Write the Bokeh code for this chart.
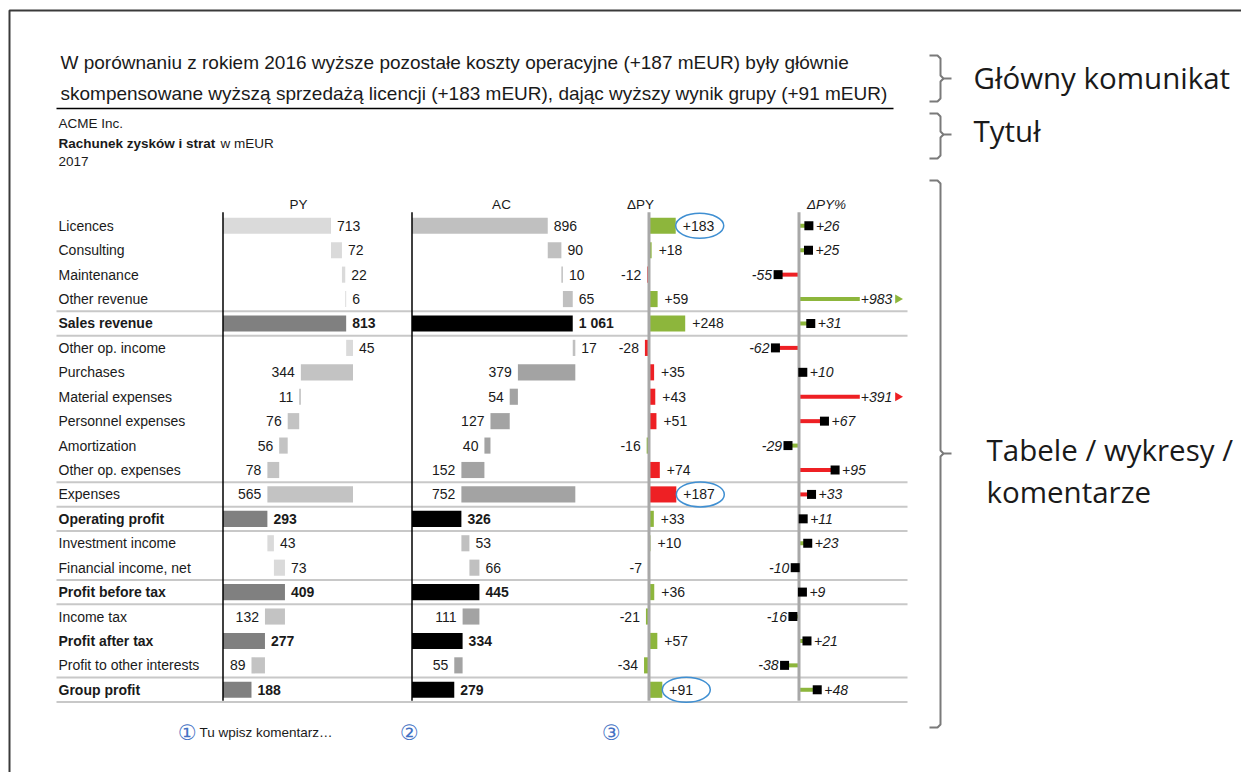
from bokeh.plotting import figure
from bokeh.models import Range1d, ColumnDataSource
from bokeh.embed import file_html
from bokeh.resources import INLINE
from bokeh.core.properties import value

# ---------------- data ----------------
categories = ["Licences", "Consulting", "Maintenance", "Other revenue", "Sales revenue",
              "Other op. income", "Purchases", "Material expenses", "Personnel expenses",
              "Amortization", "Other op. expenses", "Expenses", "Operating profit",
              "Investment income", "Financial income, net", "Profit before tax",
              "Income tax", "Profit after tax", "Profit to other interests", "Group profit"]
row_kind = ["+", "+", "+", "+", "=", "+", "-", "-", "-", "-", "-", "S", "=",
            "+", "+", "=", "-", "=", "-", "="]
py_values = [713, 72, 22, 6, 813, 45, 344, 11, 76, 56, 78, 565, 293, 43, 73, 409, 132, 277, 89, 188]
ac_values = [896, 90, 10, 65, 1061, 17, 379, 54, 127, 40, 152, 752, 326, 53, 66, 445, 111, 334, 55, 279]
delta_py = [183, 18, -12, 59, 248, -28, 35, 43, 51, -16, 74, 187, 33, 10, -7, 36, -21, 57, -34, 91]
delta_py_pct = [26, 25, -55, 983, 31, -62, 10, 391, 67, -29, 95, 33, 11, 23, -10, 9, -16, 21, -38, 48]
is_cost = [False] * 6 + [True] * 6 + [False] * 4 + [True, False, True, False]
highlighted = ["Licences", "Expenses", "Group profit"]
separators_above = ["Sales revenue", "Other op. income", "Expenses", "Operating profit",
                    "Investment income", "Profit before tax", "Income tax", "Group profit", None]
column_titles = ["PY", "AC", "\u0394PY", "\u0394PY%"]

headline = ["W porównaniu z rokiem 2016 wyższe pozostałe koszty operacyjne (+187 mEUR) były głównie",
            "skompensowane wyższą sprzedażą licencji (+183 mEUR), dając wyższy wynik grupy (+91 mEUR)"]
company = "ACME Inc."
report_bold = "Rachunek zysków i strat"
report_unit = "w mEUR"
year = "2017"
comment = "Tu wpisz komentarz\u2026"
side_notes = ["Główny komunikat", "Tytuł", "Tabele / wykresy /", "komentarze"]

# ---------------- layout / styles ----------------
SANS = "Liberation Sans"
SIDE = "Open Sans"
TXT = "#1a1a1a"
GREEN = "#8db63c"
RED = "#ee2024"
W, H = 1241, 772
X0, Y0 = 0, 0
ROW0, ROWH = 225.3, 24.42
K_ABS, K_DPY, K_PCT = 0.1515, 0.146, 0.38
PCT_CLIP = 160

p = figure(width=W, height=H, output_backend="svg", toolbar_location=None,
           x_range=Range1d(X0, X0 + W), y_range=Range1d(Y0 + H, Y0),
           x_axis_location=None, y_axis_location=None, min_border=0)
p.grid.visible = False
p.outline_line_color = None
p.background_fill_color = "white"
p.border_fill_color = "white"


def col_range(base_px, k):
    return Range1d((X0 - base_px) / k, (X0 + W - base_px) / k)


p.extra_y_ranges = {"rows": Range1d((Y0 + H - ROW0) / ROWH, (Y0 - ROW0) / ROWH)}
p.extra_x_ranges = {"py": col_range(222.5, K_ABS), "ac": col_range(411.5, K_ABS),
                    "dpy": col_range(648.5, K_DPY), "dpyp": col_range(798.5, K_PCT)}

n = len(categories)
rows = list(range(n))


def fmt(v):
    return f"{v:,}".replace(",", " ")


def waterfall(vals):
    lefts, rights = [], []
    run = 0
    for v, k in zip(vals, row_kind):
        if k == "=":
            l, r = 0, v
            run = v
        elif k == "+":
            l, r = run, run + v
            run += v
        elif k == "-":
            l, r = run - v, run
            run -= v
        else:
            l, r = run, run + v
        lefts.append(l)
        rights.append(r)
    return lefts, rights


# frame border
p.line(x=[9, 9, X0 + W], y=[Y0 + H, 10, 10], line_color="#3a3a3a", line_width=2)

# headline
p.text(x=[60, 60], y=[62, 93], text=headline, text_font=value(SANS), text_font_size="19px",
       text_color=TXT, text_baseline="middle")
p.segment(x0=56, x1=893, y0=108, y1=108, line_color="black", line_width=1.6)

# title block
p.text(x=[58], y=[123], text=[company], text_font=value(SANS), text_font_size="13.5px",
       text_color=TXT, text_baseline="middle")
p.text(x=[58], y=[143], text=[report_bold], text_font=value(SANS), text_font_size="13.5px",
       text_font_style="bold", text_color=TXT, text_baseline="middle")
p.text(x=[220], y=[143], text=[report_unit], text_font=value(SANS), text_font_size="13.5px",
       text_color=TXT, text_baseline="middle")
p.text(x=[58], y=[161], text=[year], text_font=value(SANS), text_font_size="13.5px",
       text_color=TXT, text_baseline="middle")

# column titles
p.text(x=[298, 501, 640], y=[204] * 3, text=column_titles[:3], text_font=value(SANS),
       text_font_size="13.5px", text_color=TXT, text_align="center", text_baseline="middle")
p.text(x=[826], y=[204], text=column_titles[3:], text_font=value(SANS), text_font_size="13.5px",
       text_font_style="italic", text_color=TXT, text_align="center", text_baseline="middle")

# separators
sep_y = [(categories.index(c) if c else n) - 0.5 for c in separators_above]
p.segment(x0=[56] * len(sep_y), x1=[907] * len(sep_y), y0=sep_y, y1=sep_y,
          y_range_name="rows", line_color="#c8c8c8", line_width=2)

# row labels
p.text(x=[58] * n, y=rows, text=categories, y_range_name="rows",
       text_font=value(SANS), text_font_size="14px", text_color=TXT, text_baseline="middle",
       text_font_style=["bold" if k == "=" else "normal" for k in row_kind])


def abs_column(vals, rname, c_plus, c_minus, c_total):
    l, r = waterfall(vals)
    colors = [c_total if k == "=" else (c_plus if k == "+" else c_minus) for k in row_kind]
    src = ColumnDataSource(dict(y=rows, l=l, r=r, c=colors))
    p.hbar(y="y", left="l", right="r", height=0.66, fill_color="c", line_color=None,
           source=src, x_range_name=rname, y_range_name="rows")
    lx = [r[i] if k in "+=" else l[i] for i, k in enumerate(row_kind)]
    off = [6 if k in "+=" else -6 for k in row_kind]
    al = ["left" if k in "+=" else "right" for k in row_kind]
    st = ["bold" if k == "=" else "normal" for k in row_kind]
    lsrc = ColumnDataSource(dict(x=lx, y=rows, t=[fmt(v) for v in vals], o=off, a=al, s=st))
    p.text(x="x", y="y", text="t", x_offset="o", text_align="a", text_font_style="s",
           source=lsrc, x_range_name=rname, y_range_name="rows", text_font=value(SANS),
           text_font_size="14px", text_color=TXT, text_baseline="middle")
    p.segment(x0=0, x1=0, y0=-0.55, y1=19.45, x_range_name=rname, y_range_name="rows",
              line_color="black", line_width=1.5)


abs_column(py_values, "py", "#dadada", "#c3c3c3", "#808080")
abs_column(ac_values, "ac", "#c0c0c0", "#a3a3a3", "#000000")

# delta PY
good = [(d > 0) != c for d, c in zip(delta_py, is_cost)]
dcol = [GREEN if g else RED for g in good]
dsrc = ColumnDataSource(dict(y=rows, r=delta_py, c=dcol))
p.hbar(y="y", left=0, right="r", height=0.66, fill_color="c", line_color=None, source=dsrc,
       x_range_name="dpy", y_range_name="rows")
p.segment(x0=0, x1=0, y0=-0.55, y1=19.45, x_range_name="dpy", y_range_name="rows",
          line_color="#a8a8a8", line_width=3)
dl = ColumnDataSource(dict(x=delta_py, y=rows, t=[f"{d:+d}" for d in delta_py],
                           o=[7 if d > 0 else -6 for d in delta_py],
                           a=["left" if d > 0 else "right" for d in delta_py]))
p.text(x="x", y="y", text="t", x_offset="o", text_align="a", source=dl,
       x_range_name="dpy", y_range_name="rows", text_font=value(SANS),
       text_font_size="14px", text_color=TXT, text_baseline="middle")
hi = [categories.index(c) for c in highlighted]
p.ellipse(x=[delta_py[i] + 24 / K_DPY for i in hi], y=hi, width=48, height=25,
          width_units="screen", height_units="screen", fill_color=None,
          line_color="#3f8fd2", line_width=1.5, x_range_name="dpy", y_range_name="rows")

# delta PY %
gp = [(d > 0) != c for d, c in zip(delta_py_pct, is_cost)]
pcol = [GREEN if g else RED for g in gp]
shown = [max(-PCT_CLIP, min(PCT_CLIP, v)) for v in delta_py_pct]
clipped = [abs(v) > PCT_CLIP for v in delta_py_pct]
p.segment(x0=[0] * n, x1=shown, y0=rows, y1=rows, line_color=pcol, line_width=4,
          x_range_name="dpyp", y_range_name="rows")
p.segment(x0=0, x1=0, y0=-0.55, y1=19.45, x_range_name="dpyp", y_range_name="rows",
          line_color="#a8a8a8", line_width=3)
sq = [i for i in rows if not clipped[i]]
p.scatter(x=[shown[i] for i in sq], y=sq, marker="square", size=9, fill_color="black",
          line_color=None, x_range_name="dpyp", y_range_name="rows")
cl = [i for i in rows if clipped[i]]
p.scatter(x=[shown[i] + 100 for i in cl], y=cl, marker="triangle", size=9, angle=-1.5708,
          fill_color=[pcol[i] for i in cl], line_color=None, x_range_name="dpyp", y_range_name="rows")
pl = ColumnDataSource(dict(
    x=shown, y=rows, t=[f"{v:+d}" for v in delta_py_pct],
    o=[1 if clipped[i] else (7 if v > 0 else -6) for i, v in enumerate(delta_py_pct)],
    a=["left" if v > 0 else "right" for v in delta_py_pct]))
p.text(x="x", y="y", text="t", x_offset="o", text_align="a", source=pl,
       x_range_name="dpyp", y_range_name="rows", text_font=value(SANS),
       text_font_size="14px", text_font_style="italic", text_color=TXT, text_baseline="middle")

# comments row
p.text(x=[187, 409, 611], y=[732] * 3, text=["\u2460", "\u2461", "\u2462"],
       text_font=value("DejaVu Sans"), text_font_size="21px", text_color="#4472c4",
       text_align="center", text_baseline="middle")
p.text(x=[199], y=[732], text=[comment], text_font=value(SANS), text_font_size="13.5px",
       text_color=TXT, text_baseline="middle")

# right-side annotations with brackets
BR = "#7a7a7a"
for top, mid, bot in [(55, 78, 101), (113, 134, 158), (180, 453, 727)]:
    p.line(x=[929, 937, 940, 940, 943, 951], y=[top, top, top + 3, mid - 3, mid, mid],
           line_color=BR, line_width=2)
    p.line(x=[943, 940, 940, 937, 929], y=[mid, mid + 3, bot - 3, bot, bot],
           line_color=BR, line_width=2)
p.text(x=[973, 973, 986, 986], y=[77, 130, 449, 491], text=side_notes,
       text_font=value(SIDE), text_font_size="29.5px", text_color="#1a1a1a", text_baseline="middle")

open("out.html", "w").write(file_html(p, INLINE))
